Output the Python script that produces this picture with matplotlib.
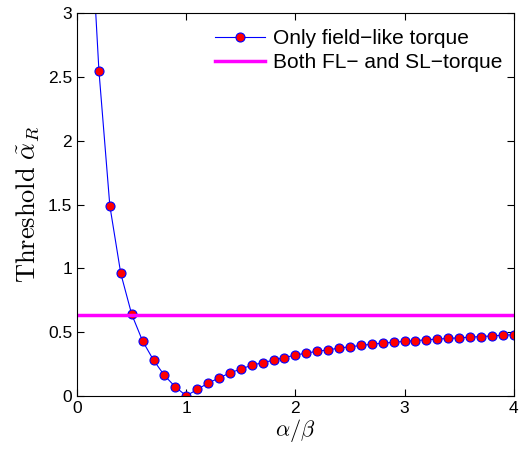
import numpy as np
import matplotlib.pyplot as plt

plt.rcParams['font.family'] = ['Liberation Sans', 'DejaVu Sans']
plt.rcParams['mathtext.fontset'] = 'cm'

# ratio alpha/beta
ratio = [0.1, 0.2, 0.3, 0.4, 0.5, 0.6, 0.7, 0.8, 0.9, 1.0,
         1.1, 1.2, 1.3, 1.4, 1.5, 1.6, 1.7, 1.8, 1.9, 2.0,
         2.1, 2.2, 2.3, 2.4, 2.5, 2.6, 2.7, 2.8, 2.9, 3.0,
         3.1, 3.2, 3.3, 3.4, 3.5, 3.6, 3.7, 3.8, 3.9, 4.0]
# threshold, only field-like torque
thresh_fl = [4.1, 2.55, 1.49, 0.96, 0.64, 0.43, 0.28, 0.16, 0.07, 0.0,
             0.05, 0.10, 0.14, 0.18, 0.21, 0.24, 0.26, 0.28, 0.30, 0.32,
             0.335, 0.35, 0.36, 0.375, 0.385, 0.395, 0.405, 0.413, 0.42, 0.427,
             0.433, 0.44, 0.445, 0.45, 0.455, 0.46, 0.465, 0.47, 0.475, 0.48]
# threshold with both FL- and SL-torque
thresh_both = 0.637

fig = plt.figure(figsize=(5.28, 4.55), dpi=100)
ax = fig.add_axes([0.146, 0.130, 0.827, 0.841])

ax.plot(ratio, thresh_fl, color='b', lw=0.8, marker='o', ms=6.5,
        mfc='r', mec='b', mew=0.8, label='Only field\u2212like torque')
ax.axhline(thresh_both, color='#ff00ff', lw=2.5,
           label='Both FL\u2212 and SL\u2212torque')

ax.set_xlim(0, 4)
ax.set_ylim(0, 3)
ax.set_xticks([0, 1, 2, 3, 4])
ax.set_yticks([0, 0.5, 1, 1.5, 2, 2.5, 3])
ax.set_yticklabels(['0', '0.5', '1', '1.5', '2', '2.5', '3'])
ax.tick_params(direction='in', top=True, right=True, length=5,
               labelsize=12.5, width=0.8)
for s in ax.spines.values():
    s.set_linewidth(0.8)

ax.set_xlabel(r'$\alpha/\beta$', fontsize=16, labelpad=1)
ax.set_ylabel(r'$\mathrm{Threshold}\ \tilde{\alpha}_R$', fontsize=19, labelpad=5)

ax.legend(loc='upper right', bbox_to_anchor=(1.017, 1.008), frameon=False,
          fontsize=15, handlelength=2.4, labelspacing=0.25, handletextpad=0.4)

fig.savefig('out.png', dpi=100)
